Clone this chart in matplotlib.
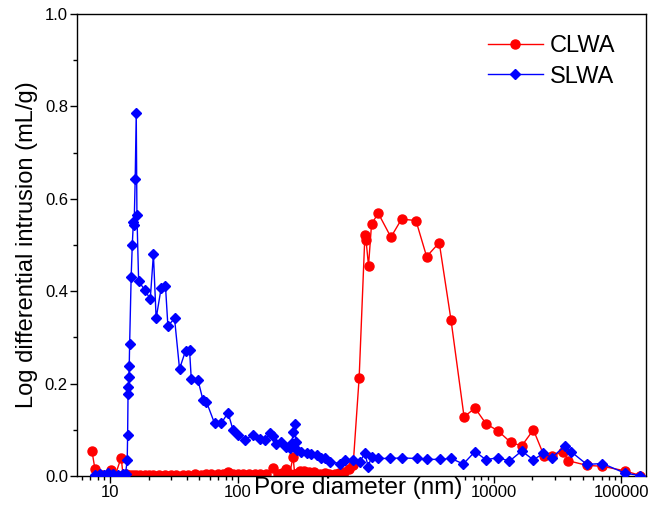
import matplotlib
matplotlib.use("Agg")
import matplotlib.pyplot as plt
from matplotlib.ticker import LogLocator, MultipleLocator, FixedLocator

plt.rcParams['font.family'] = ['Liberation Sans', 'DejaVu Sans']

# pore diameter (nm) and log differential intrusion (mL/g)
clwa_d = [7.2, 7.6, 8.7, 9.4, 10.2, 11.0, 12.2, 12.6, 13.4, 14.2, 15.0, 16.0, 17.0,
          18.6, 20.0, 21.6, 24.0, 27, 30, 33, 37, 41, 46, 51, 56, 62, 70, 76, 83.6,
          92, 100, 110, 122, 135, 150, 165, 188, 205, 222, 239, 254, 270, 278, 296,
          306, 330, 360, 395, 440, 480, 520, 570, 620, 680, 740, 797, 888, 985,
          1005, 1051, 1110, 1251, 1574, 1906, 2470, 2994, 3759, 4645, 5880, 7160,
          8730, 10800, 13600, 16600, 20500, 24900, 28600, 35200, 38500, 53700,
          71200, 107000, 141000]
clwa_v = [0.055, 0.015, 0.002, 0.002, 0.013, 0.003, 0.040, 0.003, 0.004, 0.003,
          0.003, 0.003, 0.002, 0.002, 0.002, 0.002, 0.002, 0.002, 0.003, 0.002,
          0.003, 0.003, 0.004, 0.003, 0.004, 0.004, 0.004, 0.005, 0.008, 0.004,
          0.005, 0.004, 0.005, 0.005, 0.004, 0.005, 0.018, 0.004, 0.007, 0.015,
          0.005, 0.042, 0.004, 0.006, 0.011, 0.010, 0.009, 0.008, 0.005, 0.006,
          0.004, 0.004, 0.006, 0.009, 0.015, 0.024, 0.213, 0.522, 0.511, 0.455,
          0.545, 0.569, 0.517, 0.556, 0.553, 0.475, 0.505, 0.338, 0.128, 0.147,
          0.113, 0.098, 0.073, 0.065, 0.100, 0.043, 0.043, 0.053, 0.033, 0.023,
          0.021, 0.011, 0.001]

slwa_d = [7.6, 8.3, 9.0, 9.6, 10.5, 11.5, 12.5, 13.2, 13.6, 13.7, 13.8, 13.9, 14.0,
          14.1, 14.2, 14.6, 14.9, 15.2, 15.4, 15.7, 16.0, 16.2, 16.7, 18.6, 20.6,
          21.8, 22.9, 25.1, 27.1, 28.3, 31.9, 34.9, 38.9, 41.8, 43.1, 48.6, 53.2,
          56.6, 65.6, 74.0, 83.6, 91.4, 100, 113, 131, 148, 162, 178, 188, 200,
          219, 239, 254, 265, 270, 281, 284, 288, 314, 345, 376, 412, 450, 478,
          523, 627, 686, 796, 899, 985, 1045, 1110, 1250, 1545, 1906, 2500, 2994,
          3811, 4648, 5800, 7160, 8730, 10900, 13300, 16600, 20500, 24550, 28570,
          36300, 40270, 53700, 71200, 107000, 140600]
slwa_v = [0.002, 0.005, 0.003, 0.006, 0.004, 0.003, 0.004, 0.005, 0.035, 0.089,
          0.177, 0.193, 0.215, 0.237, 0.285, 0.431, 0.501, 0.550, 0.543, 0.642,
          0.785, 0.565, 0.422, 0.403, 0.383, 0.480, 0.341, 0.408, 0.411, 0.325,
          0.341, 0.232, 0.271, 0.273, 0.211, 0.208, 0.165, 0.161, 0.114, 0.114,
          0.137, 0.100, 0.089, 0.078, 0.089, 0.079, 0.078, 0.092, 0.087, 0.069,
          0.074, 0.063, 0.060, 0.072, 0.096, 0.112, 0.074, 0.056, 0.053, 0.049,
          0.047, 0.045, 0.040, 0.038, 0.031, 0.027, 0.035, 0.035, 0.031, 0.049,
          0.020, 0.042, 0.038, 0.038, 0.039, 0.038, 0.036, 0.036, 0.038, 0.026,
          0.053, 0.035, 0.040, 0.032, 0.054, 0.035, 0.049, 0.040, 0.065, 0.053,
          0.025, 0.027, 0.006, 0.001]

fig = plt.figure(figsize=(6.54, 5.27), dpi=100)
ax = fig.add_axes([0.1177, 0.0968, 0.8701, 0.8766])

ax.plot(clwa_d, clwa_v, color='#ff0000', lw=1.0, marker='o', ms=6.5,
        mec='#ff0000', label='CLWA', zorder=2)
ax.plot(slwa_d, slwa_v, color='#0000ff', lw=1.0, marker='D', ms=5,
        mec='#0000ff', label='SLWA', zorder=3)

ax.set_xscale('log')
ax.set_xlim(5.5, 156000)
ax.set_ylim(0, 1.0)
ax.xaxis.set_major_locator(FixedLocator([10, 100, 1000, 10000, 100000]))
ax.xaxis.set_minor_locator(LogLocator(base=10, subs=range(2, 10), numticks=20))
ax.set_xticklabels(['10', '100', '1000', '10000', '100000'])
ax.yaxis.set_major_locator(MultipleLocator(0.2))
ax.yaxis.set_minor_locator(MultipleLocator(0.1))
ax.yaxis.set_major_formatter(matplotlib.ticker.FormatStrFormatter('%.1f'))

ax.tick_params(which='major', direction='out', length=5, width=1, labelsize=12,
               pad=1.5, top=False, right=False)
ax.tick_params(which='minor', direction='out', length=3, width=1,
               top=False, right=False)
for s in ax.spines.values():
    s.set_linewidth(1.0)

# x title sits on the tick label row and hides the 1000 label behind it
ax.set_xlabel('Pore diameter (nm)', fontsize=17.5,
              bbox=dict(facecolor='white', edgecolor='none', pad=0.5))
ax.xaxis.label.set_verticalalignment('center')
ax.xaxis.set_label_coords(0.494, -0.026)
ax.set_ylabel('Log differential intrusion (mL/g)', fontsize=17)
ax.yaxis.set_label_coords(-0.069, 0.5)

ax.legend(loc='upper right', bbox_to_anchor=(0.946, 0.954), frameon=False,
          fontsize=17, handlelength=2.33, handletextpad=0.3, labelspacing=0.35,
          borderpad=0, borderaxespad=0)

fig.savefig('out.png', dpi=100)
